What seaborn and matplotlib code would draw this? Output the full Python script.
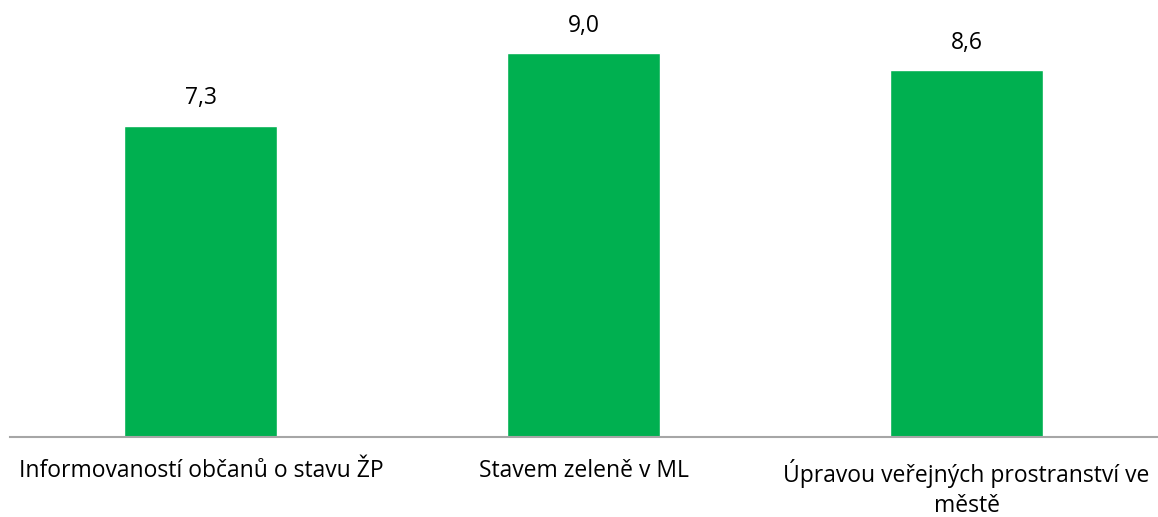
import matplotlib
matplotlib.use("Agg")
import matplotlib.pyplot as plt
import seaborn as sns
import pandas as pd

categories = ["Informovaností občanů o stavu ŽP", "Stavem zeleně v ML", "Úpravou veřejných prostranství ve\nměstě"]
values = [7.3, 9.0, 8.6]

sns.set_style("white")
plt.rcParams['font.family'] = ['Open Sans', 'DejaVu Sans']

df = pd.DataFrame({"cat": categories, "val": values})

fig = plt.figure(figsize=(11.58, 5.17), dpi=100)
W, H = 1158, 517
base = 437
top = 0
ax = fig.add_axes([9.5 / W, 1 - base / H, (1158 - 9.5) / W, (base - top) / H])

sns.barplot(data=df, x="cat", y="val", color="#00B050", width=0.40, ax=ax, saturation=1)

ax.set_xlim(-0.5, 2.5)
ax.set_ylim(0, 437 / 42.67)
ax.set_xlabel("")
ax.set_ylabel("")
ax.set_yticks([])
for s in ["top", "right", "left"]:
    ax.spines[s].set_visible(False)
ax.spines["bottom"].set_color("#A6A6A6")
ax.spines["bottom"].set_linewidth(1.5)
ax.tick_params(axis="x", length=0, pad=16, labelsize=16.5, labelcolor="#000000")
for t in ax.get_xticklabels():
    t.set_linespacing(1.3)

for c in ax.containers:
    ax.bar_label(c, labels=[f"{v:.1f}".replace(".", ",") for v in values], padding=11, fontsize=16.5, color="#000000")

fig.savefig("out.png", dpi=100)
